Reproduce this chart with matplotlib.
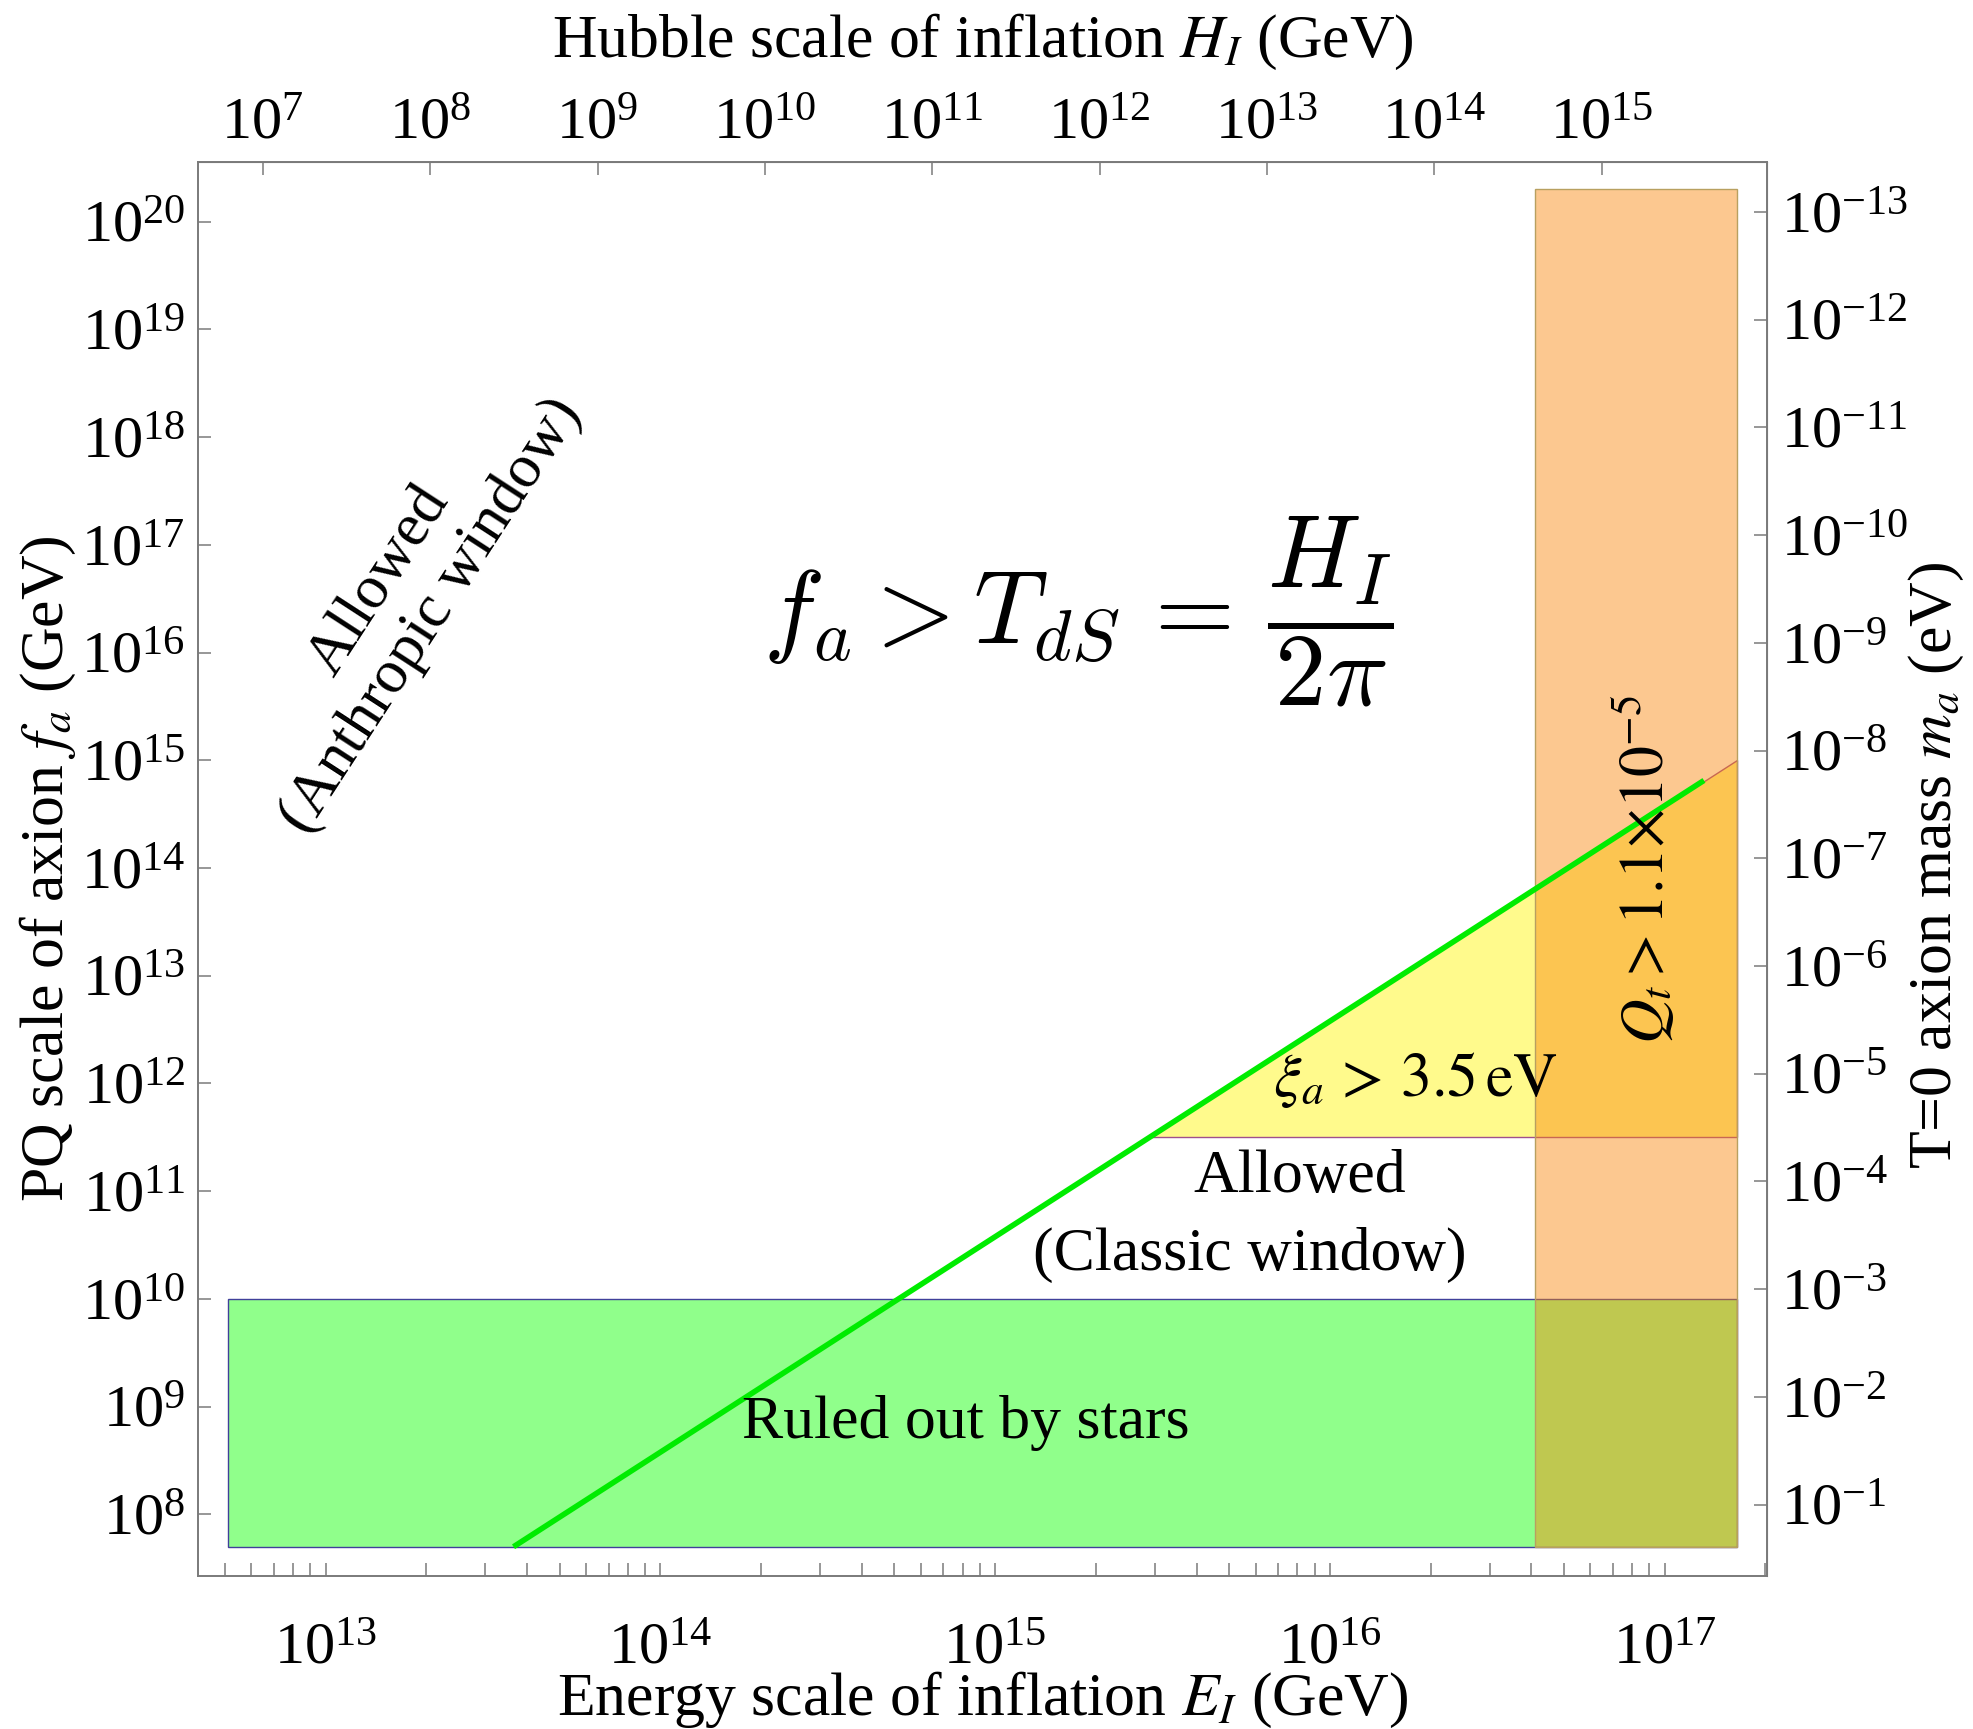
import numpy as np
import matplotlib
matplotlib.use('Agg')
from matplotlib import pyplot as plt
from matplotlib import ticker

plt.rcParams['font.family'] = ['Liberation Serif', 'DejaVu Serif']
plt.rcParams['mathtext.fontset'] = 'stix'

# region corners, energy scale E_I (GeV) vs PQ scale f_a (GeV)
stars_E = [5.1e12, 1.64e17]
stars_fa = [5.0e7, 1.0e10]
qt_E = [4.1e16, 1.64e17]
qt_fa = [5.0e7, 2.0e20]
xi_E = [2.9e15, 1.64e17, 1.64e17]
xi_fa = [3.2e11, 3.2e11, 1.0e15]
tds_E = [3.64e13, 1.31e17]
tds_fa = [5.0e7, 6.5e14]

E_TO_H = 4.21e18   # H_I = E_I^2 / (sqrt(3) M_pl)
MA_CONST = 1.23e7  # m_a (eV) = MA_CONST / f_a (GeV)

FS = 43.5
FS_LAB = 44.5
GRAY = '#7a7a7a'


def E_to_H(E):
    return np.asarray(E, dtype=float) ** 2 / E_TO_H


def H_to_E(H):
    return np.sqrt(np.asarray(H, dtype=float) * E_TO_H)


def fa_to_ma(f):
    f = np.asarray(f, dtype=float)
    with np.errstate(divide='ignore'):
        return MA_CONST / f


fig = plt.figure(figsize=(19.74, 17.29), dpi=100)
ax = fig.add_axes([0.1002, 0.0887, 0.795, 0.8178])
ax.set_xscale('log')
ax.set_yscale('log')
ax.set_xlim(10 ** 12.618, 10 ** 17.306)
ax.set_ylim(10 ** 7.431, 10 ** 20.557)

# yellow: xi_a bound
ax.fill(xi_E, xi_fa, facecolor='#fffa8c', edgecolor='#a0508c', lw=1.0, zorder=1)
# green: stars
ax.fill([stars_E[0], stars_E[1], stars_E[1], stars_E[0]],
        [stars_fa[0], stars_fa[0], stars_fa[1], stars_fa[1]],
        facecolor='#90ff8b', edgecolor='#40409a', lw=1.0, zorder=1)
# orange: Q_t bound
ax.fill([qt_E[0], qt_E[1], qt_E[1], qt_E[0]],
        [qt_fa[0], qt_fa[0], qt_fa[1], qt_fa[1]],
        facecolor=(0.98, 0.52, 0.04, 0.45), edgecolor='#b8a060', lw=1.0, zorder=2)
# f_a = T_dS line
ax.plot(tds_E, tds_fa, color='#00ec00', lw=4.0, solid_capstyle='butt', zorder=3)

for s in ax.spines.values():
    s.set_color(GRAY)
    s.set_linewidth(1.4)

ax.yaxis.set_major_locator(ticker.LogLocator(base=10, numticks=30))
ax.yaxis.set_minor_locator(ticker.NullLocator())
ax.xaxis.set_major_locator(ticker.LogLocator(base=10, numticks=30))
ax.xaxis.set_minor_locator(ticker.LogLocator(base=10, subs=np.arange(2, 10), numticks=30))
ax.xaxis.set_minor_formatter(ticker.NullFormatter())
ax.tick_params(which='both', direction='in', length=9.5, width=1.1, color=GRAY,
               labelsize=FS, top=False, right=False)
ax.tick_params(axis='x', pad=34)
ax.tick_params(axis='y', pad=9)

secx = ax.secondary_xaxis('top', functions=(E_to_H, H_to_E))
secx.xaxis.set_major_locator(ticker.LogLocator(base=10, numticks=30))
secx.xaxis.set_minor_locator(ticker.NullLocator())
secx.tick_params(which='both', direction='in', length=9.5, width=1.1, color=GRAY,
                 labelsize=FS, pad=7)
secx.spines['top'].set_color(GRAY)

secy = ax.secondary_yaxis('right', functions=(fa_to_ma, fa_to_ma))
secy.yaxis.set_major_locator(ticker.LogLocator(base=10, numticks=30))
secy.yaxis.set_minor_locator(ticker.NullLocator())
secy.tick_params(which='both', direction='in', length=9.5, width=1.1, color=GRAY,
                 labelsize=FS, pad=10)
secy.spines['right'].set_color(GRAY)

# axis titles
ax.set_xlabel(r'Energy scale of inflation $E_I$ (GeV)', fontsize=FS_LAB, va='baseline')
ax.xaxis.set_label_coords(0.5, -0.0985)
ax.set_ylabel(r'PQ scale of axion $f_a$ (GeV)', fontsize=FS_LAB, va='baseline',
              rotation=90, rotation_mode='anchor')
ax.yaxis.set_label_coords(-0.0858, 0.5)
ax.text(0.5, 1.074, r'Hubble scale of inflation $H_I$ (GeV)', transform=ax.transAxes,
        fontsize=FS_LAB, ha='center', va='baseline')
ax.text(1.117, 0.502, r'T=0 axion mass $m_a$ (eV)', transform=ax.transAxes,
        fontsize=FS_LAB, ha='center', va='baseline', rotation=90, rotation_mode='anchor')

# annotations
ax.text(0.561, 0.682, r'$f_a > T_{dS} \,=\, \dfrac{H_I}{2\pi}$', transform=ax.transAxes,
        fontsize=74, ha='center', va='center', math_fontfamily='cm')
ax.text(0.132, 0.691, 'Allowed\n(Anthropic window)', transform=ax.transAxes,
        fontsize=FS_LAB, ha='center', va='center', multialignment='center',
        rotation=57, rotation_mode='anchor', linespacing=1.15)
ax.text(0.776, 0.3506, r'$\xi_a \,>\, 3.5\,\mathrm{eV}$', transform=ax.transAxes,
        fontsize=FS_LAB, ha='center', va='center')
ax.text(0.7024, 0.282, 'Allowed', transform=ax.transAxes,
        fontsize=FS_LAB, ha='center', va='center')
ax.text(0.6706, 0.2268, '(Classic window)', transform=ax.transAxes,
        fontsize=FS_LAB, ha='center', va='center')
ax.text(0.4896, 0.108, 'Ruled out by stars', transform=ax.transAxes,
        fontsize=FS_LAB, ha='center', va='center')
ax.text(0.921, 0.4998, r'$Q_t > 1.1{\times}10^{-5}$', transform=ax.transAxes,
        fontsize=FS_LAB, ha='center', va='center', rotation=90, rotation_mode='anchor')

fig.savefig('out.png', dpi=100)
plt.close(fig)
